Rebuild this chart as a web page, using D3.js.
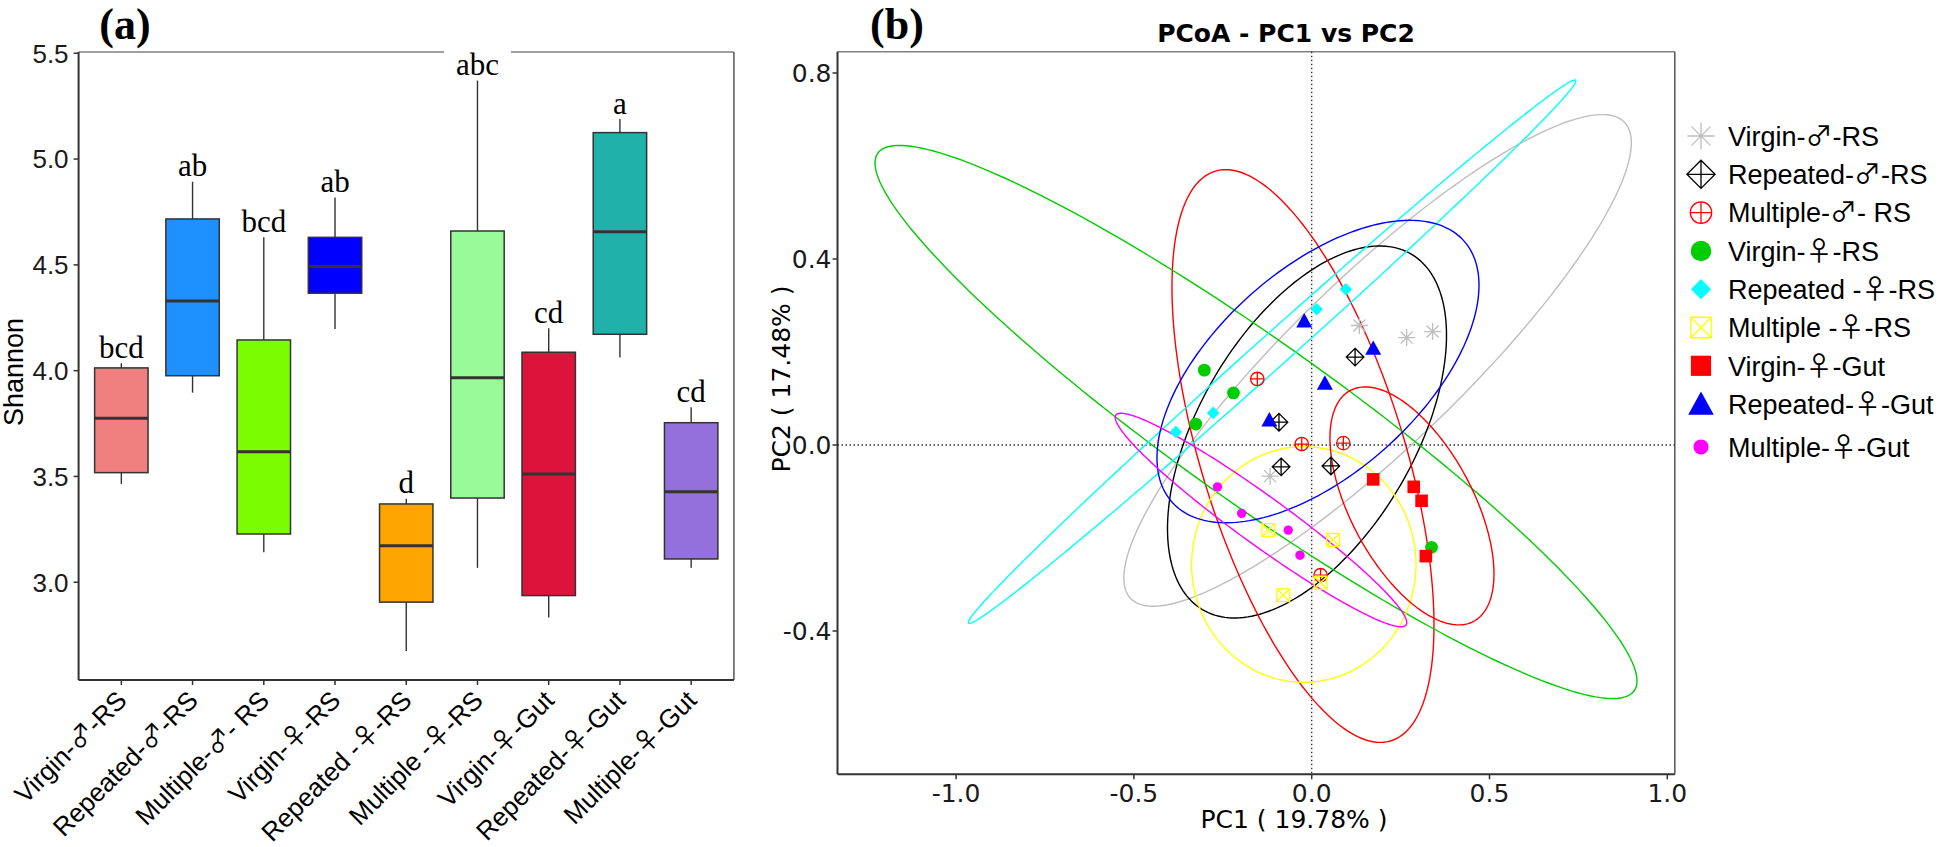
<!DOCTYPE html>
<html><head><meta charset="utf-8">
<script src="https://cdn.jsdelivr.net/npm/d3@7"></script>
<style>body{margin:0;background:#fff;} svg{display:block;}</style>
</head><body>
<svg id="chart" width="1944" height="847"></svg>
<script>
// ---------------- Panel (a) data : Shannon boxplots ----------------
const groups = ["Virgin-♂-RS","Repeated-♂-RS","Multiple-♂- RS","Virgin-♀-RS","Repeated -♀-RS","Multiple -♀-RS","Virgin-♀-Gut","Repeated-♀-Gut","Multiple-♀-Gut"];
const boxColors = ["#F08080","#1E90FF","#7CFC00","#0000FF","#FFA500","#98FB98","#DC143C","#20B2AA","#9370DB"];
const whiskerLow  = [3.465, 3.896, 3.142, 4.197, 2.675, 3.068, 2.833, 4.062, 3.069];
const q1          = [3.518, 3.976, 3.228, 4.366, 2.906, 3.398, 2.937, 4.172, 3.110];
const medians     = [3.775, 4.329, 3.617, 4.492, 3.172, 3.967, 3.512, 4.657, 3.428];
const q3          = [4.013, 4.717, 4.145, 4.630, 3.370, 4.660, 4.087, 5.125, 3.754];
const whiskerHigh = [4.035, 4.893, 4.630, 4.818, 3.395, 5.371, 4.200, 5.189, 3.827];
const sigLetters  = ["bcd","ab","bcd","ab","d","abc","cd","a","cd"];
const shannonTicks = [3.0, 3.5, 4.0, 4.5, 5.0, 5.5];

// ---------------- Panel (b) data : PCoA ----------------
const pcoaGroups = groups;
const pcoaColors = ["#BEBEBE","#000000","#FF0000","#00CD00","#00FFFF","#FFFF00","#FF0000","#0000FF","#FF00FF"];
const pcoaShapes = ["asterisk","diamondplus","circleplus","circle","diamond","boxtimes","square","triangle","dot"];
const pc1 = [
  [0.134, 0.267, 0.340, -0.117],
  [0.122, -0.092, -0.086, 0.054],
  [-0.153, -0.028, 0.089, 0.025],
  [-0.302, -0.220, -0.326, 0.337],
  [0.096, 0.014, -0.277, -0.382],
  [-0.122, 0.060, 0.025, -0.080],
  [0.173, 0.287, 0.309, 0.321],
  [-0.021, 0.173, 0.037, -0.119],
  [-0.265, -0.197, -0.066, -0.033]
];
const pc2 = [
  [0.257, 0.231, 0.244, -0.067],
  [0.189, 0.049, -0.047, -0.045],
  [0.142, 0.002, 0.004, -0.280],
  [0.161, 0.112, 0.045, -0.220],
  [0.335, 0.292, 0.069, 0.028],
  [-0.183, -0.204, -0.296, -0.323],
  [-0.074, -0.090, -0.120, -0.239],
  [0.267, 0.208, 0.133, 0.054],
  [-0.090, -0.147, -0.183, -0.237]
];
// confidence ellipses: centre, half-extent in PC1 / PC2, correlation-like tilt
const ellCx  = [0.1853, -0.0132, -0.0245, -0.1566, -0.1114, -0.0222, 0.282, 0.0177, -0.1426];
const ellCy  = [0.1819, 0.028, -0.0237, 0.0495, 0.2006, -0.257, -0.131, 0.158, -0.1613];
const ellRx  = [0.7136, 0.3923, 0.3684, 1.0714, 0.8543, 0.3155, 0.2306, 0.4528, 0.4099];
const ellRy  = [0.5287, 0.400, 0.6159, 0.5948, 0.5843, 0.2533, 0.2559, 0.3252, 0.2296];
const ellRho = [0.885, 0.52, -0.59, -0.936, 0.9968, 0.0, -0.57, 0.57, -0.96];
const pc1Ticks = [-1.0, -0.5, 0.0, 0.5, 1.0];
const pc2Ticks = [-0.4, 0.0, 0.4, 0.8];

const svg = d3.select("#chart");
const SANS = "'Liberation Sans', Arial, sans-serif";
const SERIF = "'Liberation Serif', 'Times New Roman', serif";
const DJ = "'DejaVu Sans', sans-serif";
const SYM = "'Noto Sans CJK SC', 'DejaVu Sans', sans-serif";
const fmt1 = v => d3.format(".1f")(v).replace("\u2212", "-");

// writes a label, giving the sex symbols a fuller glyph
function sexText(sel, str) {
  str.split(/([♂♀])/).forEach(p => {
    if (!p) return;
    const t = sel.append("tspan").text(p);
    if (p === "♂" || p === "♀") t.attr("font-family", SYM);
  });
  return sel;
}

// =============== Panel (a) ===============
const A = {left: 78.6, right: 733.9, top: 52, bottom: 680};
const xA = d3.scalePoint().domain(groups).range([A.left, A.right]).padding(0.6);
const yA = d3.scaleLinear().domain([2.538, 5.506]).range([A.bottom, A.top]);
const gA = svg.append("g");
const bw = xA.step() * 0.75;

gA.append("line").attr("x1", A.left).attr("x2", A.right).attr("y1", A.top).attr("y2", A.top).attr("stroke", "#808080").attr("stroke-width", 1.6);
gA.append("line").attr("x1", A.right).attr("x2", A.right).attr("y1", A.top).attr("y2", A.bottom).attr("stroke", "#606060").attr("stroke-width", 1.6);

groups.forEach((g, i) => {
  const cx = xA(g);
  gA.append("line").attr("x1", cx).attr("x2", cx).attr("y1", yA(q3[i])).attr("y2", yA(whiskerHigh[i])).attr("stroke", "#333").attr("stroke-width", 1.4);
  gA.append("line").attr("x1", cx).attr("x2", cx).attr("y1", yA(q1[i])).attr("y2", yA(whiskerLow[i])).attr("stroke", "#333").attr("stroke-width", 1.4);
  gA.append("rect").attr("x", cx - bw/2).attr("width", bw).attr("y", yA(q3[i])).attr("height", yA(q1[i]) - yA(q3[i]))
    .attr("fill", boxColors[i]).attr("stroke", "#333").attr("stroke-width", 1.5);
  gA.append("line").attr("x1", cx - bw/2).attr("x2", cx + bw/2).attr("y1", yA(medians[i])).attr("y2", yA(medians[i])).attr("stroke", "#333").attr("stroke-width", 3);
});
groups.forEach((g, i) => {
  const cx = xA(g), by = yA(whiskerHigh[i]) - 5.5;
  const t = gA.append("text").attr("x", cx).attr("y", by).attr("text-anchor", "middle")
    .attr("font-family", SERIF).attr("font-size", 31).attr("fill", "#000").text(sigLetters[i]);
  const w = t.node().getComputedTextLength();
  gA.insert("rect", "text").attr("x", cx - w/2 - 12).attr("width", w + 24).attr("y", by - 27).attr("height", 29).attr("fill", "#fff");
});
gA.append("line").attr("x1", A.left).attr("x2", A.left).attr("y1", A.top).attr("y2", A.bottom).attr("stroke", "#333").attr("stroke-width", 2);
gA.append("line").attr("x1", A.left).attr("x2", A.right).attr("y1", A.bottom).attr("y2", A.bottom).attr("stroke", "#333").attr("stroke-width", 2);
shannonTicks.forEach(v => {
  gA.append("line").attr("x1", A.left - 5).attr("x2", A.left).attr("y1", yA(v)).attr("y2", yA(v)).attr("stroke", "#333").attr("stroke-width", 1.5);
  gA.append("text").attr("x", A.left - 10).attr("y", yA(v)).attr("dy", "0.36em").attr("text-anchor", "end")
    .attr("font-family", SANS).attr("font-size", 26).attr("fill", "#1a1a1a").text(fmt1(v));
});
groups.forEach(g => {
  const cx = xA(g);
  gA.append("line").attr("x1", cx).attr("x2", cx).attr("y1", A.bottom).attr("y2", A.bottom + 5).attr("stroke", "#333").attr("stroke-width", 1.5);
  const t = gA.append("text").attr("transform", `translate(${cx + 7},${A.bottom + 22}) rotate(-45)`).attr("text-anchor", "end")
    .attr("font-family", SANS).attr("font-size", 26).attr("fill", "#000");
  sexText(t, g);
});
gA.append("text").attr("transform", `translate(22.5,372) rotate(-90)`).attr("text-anchor", "middle")
  .attr("font-family", SANS).attr("font-size", 27).attr("fill", "#000").text("Shannon");
gA.append("text").attr("x", 125).attr("y", 39).attr("text-anchor", "middle").attr("font-family", SERIF)
  .attr("font-weight", "bold").attr("font-size", 44).text("(a)");

// =============== Panel (b) ===============
const B = {left: 837.5, right: 1674.8, top: 51.7, bottom: 774.3};
const xB = d3.scaleLinear().domain([-1.3335, 1.0211]).range([B.left, B.right]);
const yB = d3.scaleLinear().domain([-0.7082, 0.8458]).range([B.bottom, B.top]);
const gB = svg.append("g");

gB.append("line").attr("x1", B.left).attr("x2", B.right).attr("y1", B.top).attr("y2", B.top).attr("stroke", "#808080").attr("stroke-width", 1.6);
gB.append("line").attr("x1", B.right).attr("x2", B.right).attr("y1", B.top).attr("y2", B.bottom).attr("stroke", "#606060").attr("stroke-width", 1.6);
gB.append("line").attr("x1", xB(0)).attr("x2", xB(0)).attr("y1", B.top).attr("y2", B.bottom).attr("stroke", "#333").attr("stroke-width", 1.3).attr("stroke-dasharray", "1.5,2.5");
gB.append("line").attr("x1", B.left).attr("x2", B.right).attr("y1", yB(0)).attr("y2", yB(0)).attr("stroke", "#333").attr("stroke-width", 1.3).attr("stroke-dasharray", "1.5,2.5");

const line = d3.line().x(d => xB(d[0])).y(d => yB(d[1])).curve(d3.curveLinearClosed);
pcoaGroups.forEach((g, i) => {
  const phi = Math.acos(ellRho[i]);
  const pts = d3.range(0, 200).map(k => {
    const t = k / 200 * 2 * Math.PI;
    return [ellCx[i] + ellRx[i] * Math.cos(t), ellCy[i] + ellRy[i] * Math.cos(t - phi)];
  });
  gB.append("path").attr("d", line(pts)).attr("fill", "none").attr("stroke", pcoaColors[i]).attr("stroke-width", 1.4);
});

function drawSymbol(sel, type, color, s) {
  const sw = 1.3;
  if (type === "asterisk") {
    const r = 8.5 * s, d = r * 0.7071;
    sel.append("path").attr("d", `M${-r},0L${r},0M0,${-r}L0,${r}M${-d},${-d}L${d},${d}M${-d},${d}L${d},${-d}`)
      .attr("stroke", color).attr("stroke-width", sw).attr("fill", "none");
  } else if (type === "diamondplus") {
    const r = 8.8 * s;
    sel.append("path").attr("d", `M0,${-r}L${r},0L0,${r}L${-r},0ZM${-r},0L${r},0M0,${-r}L0,${r}`)
      .attr("stroke", color).attr("stroke-width", sw).attr("fill", "none");
  } else if (type === "circleplus") {
    const r = 6.7 * s;
    sel.append("circle").attr("r", r).attr("stroke", color).attr("stroke-width", sw).attr("fill", "none");
    sel.append("path").attr("d", `M${-r},0L${r},0M0,${-r}L0,${r}`).attr("stroke", color).attr("stroke-width", sw);
  } else if (type === "circle") {
    sel.append("circle").attr("r", 6.4 * s).attr("fill", color);
  } else if (type === "diamond") {
    const r = 6.3 * s;
    sel.append("path").attr("d", `M0,${-r}L${r},0L0,${r}L${-r},0Z`).attr("fill", color);
  } else if (type === "boxtimes") {
    const h = 6.4 * s;
    sel.append("path").attr("d", `M${-h},${-h}H${h}V${h}H${-h}ZM${-h},${-h}L${h},${h}M${-h},${h}L${h},${-h}`)
      .attr("stroke", color).attr("stroke-width", sw).attr("fill", "none");
  } else if (type === "square") {
    const h = 6.3 * s;
    sel.append("rect").attr("x", -h).attr("y", -h).attr("width", 2*h).attr("height", 2*h).attr("fill", color);
  } else if (type === "triangle") {
    const w = 8 * s;
    sel.append("path").attr("d", `M0,${-7.8*s}L${w},${6.6*s}L${-w},${6.6*s}Z`).attr("fill", color);
  } else if (type === "dot") {
    sel.append("circle").attr("r", 4.7 * s).attr("fill", color);
  }
}

pcoaGroups.forEach((g, i) => {
  pc1[i].forEach((v, j) => {
    const p = gB.append("g").attr("transform", `translate(${xB(v)},${yB(pc2[i][j])})`);
    drawSymbol(p, pcoaShapes[i], pcoaColors[i], 1);
  });
});

gB.append("line").attr("x1", B.left).attr("x2", B.left).attr("y1", B.top).attr("y2", B.bottom).attr("stroke", "#333").attr("stroke-width", 2);
gB.append("line").attr("x1", B.left).attr("x2", B.right).attr("y1", B.bottom).attr("y2", B.bottom).attr("stroke", "#333").attr("stroke-width", 2);
pc1Ticks.forEach(v => {
  gB.append("line").attr("x1", xB(v)).attr("x2", xB(v)).attr("y1", B.bottom).attr("y2", B.bottom + 5).attr("stroke", "#333").attr("stroke-width", 1.5);
  gB.append("text").attr("x", xB(v)).attr("y", 801.5).attr("text-anchor", "middle")
    .attr("font-family", DJ).attr("font-size", 25).attr("fill", "#1a1a1a").text(fmt1(v));
});
pc2Ticks.forEach(v => {
  gB.append("line").attr("x1", B.left - 5).attr("x2", B.left).attr("y1", yB(v)).attr("y2", yB(v)).attr("stroke", "#333").attr("stroke-width", 1.5);
  gB.append("text").attr("x", B.left - 6).attr("y", yB(v)).attr("dy", "0.36em").attr("text-anchor", "end")
    .attr("font-family", DJ).attr("font-size", 25).attr("fill", "#1a1a1a").text(fmt1(v));
});
gB.append("text").attr("x", 1294).attr("y", 828).attr("text-anchor", "middle").attr("font-family", DJ).attr("font-size", 25).text("PC1 ( 19.78% )");
gB.append("text").attr("transform", `translate(790,379) rotate(-90)`).attr("text-anchor", "middle").attr("font-family", DJ).attr("font-size", 25).text("PC2 ( 17.48% )");
gB.append("text").attr("x", 1286).attr("y", 41.7).attr("text-anchor", "middle").attr("font-family", DJ).attr("font-weight", "bold").attr("font-size", 25).text("PCoA - PC1 vs PC2");
gB.append("text").attr("x", 897).attr("y", 39).attr("text-anchor", "middle").attr("font-family", SERIF)
  .attr("font-weight", "bold").attr("font-size", 44).text("(b)");

// legend
const gL = svg.append("g");
pcoaGroups.forEach((g, i) => {
  const y = 136 + i * 38.3 + (i === 8 ? 4.5 : 0);
  const p = gL.append("g").attr("transform", `translate(1701,${y})`);
  drawSymbol(p, pcoaShapes[i], pcoaColors[i], 1.6);
  const t = gL.append("text").attr("x", 1728).attr("y", y).attr("dy", "0.36em").attr("font-family", SANS).attr("font-size", 27).attr("fill", "#000");
  sexText(t, g);
});
</script>
</body></html>
